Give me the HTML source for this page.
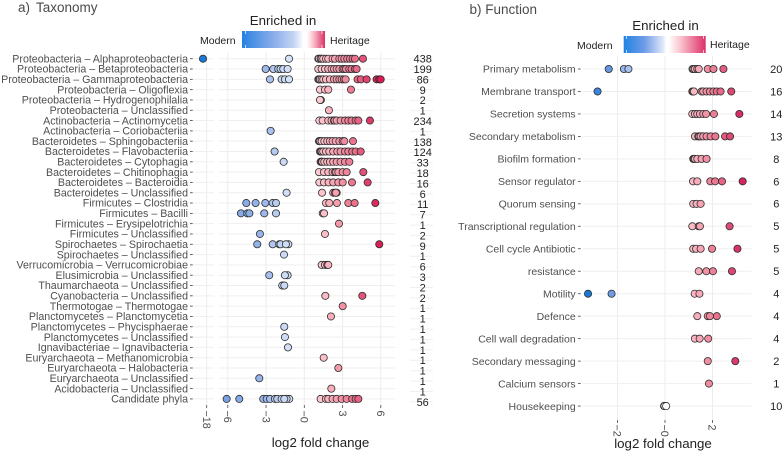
<!DOCTYPE html>
<html>
<head>
<meta charset="utf-8">
<style>
html,body{margin:0;padding:0;background:#fff;width:784px;height:453px;overflow:hidden}
svg{display:block;font-family:"Liberation Sans",sans-serif}
</style>
</head>
<body>
<svg id="chart" width="784" height="453" viewBox="0 0 784 453" xmlns="http://www.w3.org/2000/svg">
<defs>
<linearGradient id="gradA"><stop offset="0" stop-color="#1f82e4"/><stop offset=".08" stop-color="#3f8be4"/><stop offset=".4" stop-color="#8fb0ea"/><stop offset=".62" stop-color="#c2d3f3"/><stop offset=".74" stop-color="#ffffff"/><stop offset=".78" stop-color="#ffffff"/><stop offset=".86" stop-color="#fac0cb"/><stop offset="1" stop-color="#dc2f68"/></linearGradient>
<linearGradient id="gradB"><stop offset="0" stop-color="#1f82e4"/><stop offset=".25" stop-color="#6f9be6"/><stop offset=".48" stop-color="#dfe7fa"/><stop offset=".52" stop-color="#ffffff"/><stop offset=".55" stop-color="#ffffff"/><stop offset=".7" stop-color="#fac0cb"/><stop offset="1" stop-color="#dc2f68"/></linearGradient>
</defs>
<text x="18" y="12" font-size="13.5" fill="#4a4a4a">a)</text>
<text x="36" y="12" font-size="13.5" fill="#4a4a4a">Taxonomy</text>
<text x="283" y="25" font-size="13.3" text-anchor="middle" fill="#222">Enriched in</text>
<rect x="242" y="31" width="83" height="17" fill="url(#gradA)"/>
<path d="M245.5 31v3M245.5 45v3M322 31v3M322 45v3" stroke="#fff" stroke-width=".7"/>
<text x="200" y="44" font-size="10.5" fill="#222">Modern</text>
<text x="330" y="44" font-size="10.5" fill="#222">Heritage</text>
<text x="320.5" y="447" font-size="13.3" text-anchor="middle" fill="#222">log2 fold change</text>

<text x="469.5" y="14" font-size="13.5" fill="#4a4a4a">b) Function</text>
<text x="665.5" y="30" font-size="13.3" text-anchor="middle" fill="#222">Enriched in</text>
<rect x="623.7" y="36" width="82" height="17" fill="url(#gradB)"/>
<path d="M626.5 36v3M626.5 50v3M703.5 36v3M703.5 50v3" stroke="#fff" stroke-width=".7"/>
<text x="577" y="49" font-size="10.5" fill="#222">Modern</text>
<text x="710" y="48" font-size="10.5" fill="#222">Heritage</text>
<text x="663" y="448" font-size="13.3" text-anchor="middle" fill="#222">log2 fold change</text>
<g id="layer"></g>
</svg>
<script>
const taxonomyCategories = ["Proteobacteria – Alphaproteobacteria","Proteobacteria – Betaproteobacteria","Proteobacteria – Gammaproteobacteria","Proteobacteria – Oligoflexia","Proteobacteria – Hydrogenophilalia","Proteobacteria – Unclassified","Actinobacteria – Actinomycetia","Actinobacteria – Coriobacteriia","Bacteroidetes – Sphingobacteriia","Bacteroidetes – Flavobacteriia","Bacteroidetes – Cytophagia","Bacteroidetes – Chitinophagia","Bacteroidetes – Bacteroidia","Bacteroidetes – Unclassified","Firmicutes – Clostridia","Firmicutes – Bacilli","Firmicutes – Erysipelotrichia","Firmicutes – Unclassified","Spirochaetes – Spirochaetia","Spirochaetes – Unclassified","Verrucomicrobia – Verrucomicrobiae","Elusimicrobia – Unclassified","Thaumarchaeota – Unclassified","Cyanobacteria – Unclassified","Thermotogae – Thermotogae","Planctomycetes – Planctomycetia","Planctomycetes – Phycisphaerae","Planctomycetes – Unclassified","Ignavibacteriae – Ignavibacteria","Euryarchaeota – Methanomicrobia","Euryarchaeota – Halobacteria","Euryarchaeota – Unclassified","Acidobacteria – Unclassified","Candidate phyla"];
const taxonomyCounts = [438,199,86,9,2,1,234,1,138,124,33,18,16,6,11,7,1,2,9,1,6,3,2,2,1,1,1,1,1,1,1,1,1,56];
const taxonomyValues = [
[-19,-1.20,1.10,1.15,1.28,1.36,1.49,1.70,1.88,2.22,2.41,2.75,2.93,3.14,3.37,3.58,3.79,3.97,4.60],
[-3.03,-2.43,-2.04,-1.86,-1.65,-1.31,1.10,1.36,1.62,1.88,2.14,2.33,2.54,2.75,3.01,3.14,3.27,3.53,3.71,3.97,4.10],
[-2.69,-1.78,-1.52,-1.20,1.10,1.15,1.23,1.36,1.49,1.70,2.01,2.33,2.54,2.75,2.93,3.11,3.24,4.18,4.44,4.89,5.67,5.88,5.99],
[1.23,1.62,1.88,3.66],
[1.30,1.23],
[1.93],
[1.18,1.44,1.88,2.14,2.33,2.38,2.54,2.85,3.19,3.45,3.71,4.03,4.24,5.15],
[-2.64],
[1.15,1.18,1.25,1.36,1.57,1.80,2.01,2.22,2.46,2.75,3.01,3.14,3.82],
[-2.33,1.23,1.30,1.36,1.49,1.70,1.96,2.27,2.59,2.85,3.19,3.45,3.76,4.03,4.42],
[-1.62,1.28,1.35,1.41,1.57,1.80,2.01,2.27,2.54,2.85,3.19,3.53],
[1.15,1.54,1.88,2.22,2.41,2.50,2.67,3.01,3.32,4.63],
[1.18,1.54,1.91,2.27,2.67,3.01,3.74,4.97],
[-1.39,1.39,2.27,2.41,2.54,2.47],
[-4.55,-3.82,-3.06,-2.48,-2.22,1.70,1.96,2.56,3.45,3.95,5.57],
[-4.97,-4.47,-4.31,-3.14,-2.22,1.45,1.55],
[2.72],
[-3.48,1.62],
[-3.69,-2.48,-1.96,-1.86,-1.25,-1.44,5.88],
[-1.59],
[1.36,1.62,1.80,1.88],
[-2.75,-1.31,-1.52],
[-1.73,-1.57],
[1.65,4.55],
[3.01],
[2.09],
[-1.57],
[-1.52],
[-1.28],
[1.52],
[2.67],
[-3.53],
[2.12],
[-6.09,-5.10,-3.22,-2.95,-2.69,-2.30,-2.12,-1.78,-1.18,-1.39,-1.57,1.28,1.70,1.88,2.22,2.54,2.93,3.32,3.76,4.03,4.24]
];
const taxonomyTicks = [-18,-6,-3,0,3,6];
const taxonomyTickLabels = ["−18","−6","−3","−0","3","6"];

const functionCategories = ["Primary metabolism","Membrane transport","Secretion systems","Secondary metabolism","Biofilm formation","Sensor regulator","Quorum sensing","Transcriptional regulation","Cell cycle Antibiotic","resistance","Motility","Defence","Cell wall degradation","Secondary messaging","Calcium sensors","Housekeeping"];
const functionCounts = [20,16,14,13,8,6,6,5,5,5,4,4,4,2,1,10];
const functionValues = [
[-2.37,-1.73,-1.54,1.16,1.20,1.26,1.36,1.42,1.80,2.04,2.46],
[-2.84,1.15,1.18,1.22,1.54,1.61,1.75,1.89,2.04,2.18,2.34,2.79],
[1.15,1.26,1.36,1.47,1.61,1.73,2.06,3.13],
[1.26,1.40,1.44,1.50,1.61,1.75,1.92,2.12,2.53,2.74],
[1.19,1.22,1.26,1.36,1.54,1.75],
[1.18,1.36,1.91,2.11,2.40,3.27],
[1.19,1.33,1.50],
[1.15,1.42,1.47,2.72],
[1.19,1.31,1.50,1.98,3.05],
[1.42,1.74,2.02,2.82],
[-3.24,-2.25,1.25,1.45],
[1.36,1.80,2.18,1.89],
[1.26,1.46,1.82],
[1.80,2.96],
[1.85],
[-0.04,-0.02,0.05]
];
const functionTicks = [-2,0,2];
const functionTickLabels = ["−2","−0","2"];

const SVGNS = "http://www.w3.org/2000/svg";
const layer = document.getElementById("layer");

function make(tag, attrs, text) {
  const el = document.createElementNS(SVGNS, tag);
  for (const k in attrs) el.setAttribute(k, attrs[k]);
  if (text !== undefined) el.textContent = text;
  layer.appendChild(el);
  return el;
}

function blend(stops, v) {
  if (v <= stops[0][0]) return stops[0][1];
  for (let i = 1; i < stops.length; i++) {
    if (v <= stops[i][0]) {
      const a = stops[i - 1], b = stops[i];
      const t = (v - a[0]) / (b[0] - a[0]);
      const ca = a[1], cb = b[1];
      const c = [0, 1, 2].map(j => Math.round(ca[j] + (cb[j] - ca[j]) * t));
      return c;
    }
  }
  return stops[stops.length - 1][1];
}
function rgb(c) { return "rgb(" + c.join(",") + ")"; }

const colourStopsA = [[-19,[27,120,216]],[-6,[122,161,230]],[-3,[156,185,236]],[-2.5,[176,198,240]],[-1.2,[213,226,248]],[0,[255,255,255]],[1.1,[252,204,212]],[2,[251,176,188]],[3,[242,143,163]],[4,[234,110,139]],[5,[224,62,108]],[6,[216,27,82]]];
const colourStopsB = [[-3.24,[24,120,212]],[-2.25,[111,155,228]],[-1.5,[169,194,240]],[0,[255,255,255]],[1.2,[251,185,196]],[2,[238,127,151]],[3,[217,56,106]],[3.3,[212,35,90]]];

function xA(v) {
  if (v < -6.5) return 206.7 + (v + 18) * 3.7;
  return 304.3 + v * 12.75;
}
function xB(v) { return 665 + v * 23.75; }
function yA(i) { return 58.7 + i * 10.31; }
function yACount(i) { return 58.7 + i * 10.4; }
function yB(i) { return 69 + i * 22.47; }

/* Panel a: grid */
taxonomyTicks.forEach(function (t) {
  const line = make("line", {x1: xA(t), x2: xA(t), y1: 52, y2: 405, stroke: "#ececec", "stroke-width": 1});
  
  
});
taxonomyCategories.forEach(function (name, i) {
  const y = yA(i);
  const left = make("line", {x1: 190, x2: 214, y1: y, y2: y, stroke: "#efefef", "stroke-width": 1});
  
  
  const right = make("line", {x1: 219, x2: 395, y1: y, y2: y, stroke: "#efefef", "stroke-width": 1});
  
  
  const countLine = make("line", {x1: 410, x2: 433, y1: yACount(i), y2: yACount(i), stroke: "#efefef", "stroke-width": 1});
  
  
  const tick = make("line", {x1: 190, x2: 192.7, y1: y, y2: y, stroke: "#444", "stroke-width": .8});
  
  
  const label = make("text", {x: 188, y: y + 3.7, "font-size": 10.65, "text-anchor": "end", fill: "#4f4f4f"}, name);
  
  
  const c = make("text", {x: 422.7, y: yACount(i) + 3.9, "font-size": 11, "text-anchor": "middle", fill: "#222"}, String(taxonomyCounts[i]));
  
  
});
taxonomyTicks.forEach(function (t, i) {
  const x = xA(t);
  const tick = make("line", {x1: x, x2: x, y1: 405, y2: 408, stroke: "#444", "stroke-width": .8});
  
  
  const lab = make("text", {x: 0, y: 0, "font-size": 10.8, fill: "#4f4f4f", transform: "translate(" + (x - 3.8) + ",410.5) rotate(90)"}, taxonomyTickLabels[i]);
  
  
});
/* Panel a: points */
taxonomyValues.forEach(function (vals, i) {
  vals.forEach(function (v) {
    const dot = make("circle", {cx: xA(v), cy: yA(i), r: 3.6, fill: rgb(blend(colourStopsA, v)), stroke: "#2e2e2e", "stroke-width": .8});
    
    
  });
});

/* Panel b: grid */
functionTicks.forEach(function (t) {
  const line = make("line", {x1: xB(t), x2: xB(t), y1: 56, y2: 420, stroke: "#ececec", "stroke-width": 1});
  
  
});
functionCategories.forEach(function (name, i) {
  const y = yB(i);
  const row = make("line", {x1: 583, x2: 751.5, y1: y, y2: y, stroke: "#efefef", "stroke-width": 1});
  
  
  const tick = make("line", {x1: 578, x2: 580.7, y1: y, y2: y, stroke: "#444", "stroke-width": .8});
  
  
  const label = make("text", {x: 575.7, y: y + 3.7, "font-size": 10.5, "text-anchor": "end", fill: "#4f4f4f"}, name);
  
  
  const c = make("text", {x: 776.3, y: y + 3.9, "font-size": 11, "text-anchor": "middle", fill: "#222"}, String(functionCounts[i]));
  
  
});
functionTicks.forEach(function (t, i) {
  const x = xB(t);
  const tick = make("line", {x1: x, x2: x, y1: 420, y2: 423, stroke: "#444", "stroke-width": .8});
  
  
  const lab = make("text", {x: 0, y: 0, "font-size": 10.8, fill: "#4f4f4f", transform: "translate(" + (x - 3.8) + ",424.5) rotate(90)"}, functionTickLabels[i]);
  
  
});
/* Panel b: points */
functionValues.forEach(function (vals, i) {
  vals.forEach(function (v) {
    const dot = make("circle", {cx: xB(v), cy: yB(i), r: 3.6, fill: rgb(blend(colourStopsB, v)), stroke: "#2e2e2e", "stroke-width": .8});
    
    
  });
});
</script>
</body>
</html>
